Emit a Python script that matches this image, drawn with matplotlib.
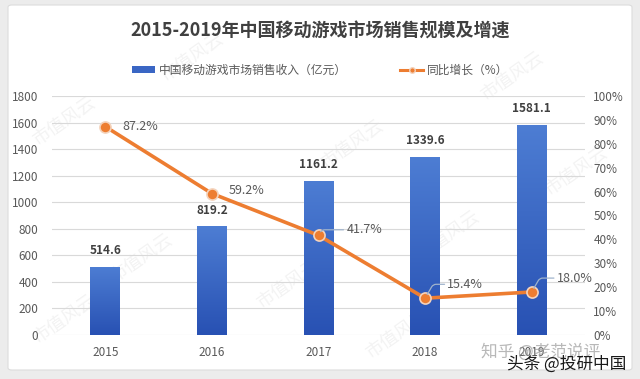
import numpy as np
import matplotlib.pyplot as plt
from matplotlib.patches import FancyBboxPatch, Patch
from matplotlib.lines import Line2D
from matplotlib.colors import LinearSegmentedColormap

plt.rcParams['font.family'] = ['Noto Sans CJK SC', 'DejaVu Sans']

years = ['2015', '2016', '2017', '2018', '2019']
revenue = [514.6, 819.2, 1161.2, 1339.6, 1581.1]
growth = [0.872, 0.592, 0.417, 0.154, 0.180]
growth_labels = ['87.2%', '59.2%', '41.7%', '15.4%', '18.0%']

bar_top = '#4d7dd3'
bar_bottom = '#2851b3'
orange = '#ed7d31'
gray_text = '#595959'

fig = plt.figure(figsize=(6.4, 3.79), dpi=100, facecolor='#ececec')
# white panel
fig.patches.append(FancyBboxPatch((8 / 640, 9 / 379), 624 / 640, 365 / 379,
                                  boxstyle='round,pad=0,rounding_size=0.006',
                                  transform=fig.transFigure, facecolor='white',
                                  edgecolor='#dcdcdc', linewidth=0.8, zorder=-10))

ax = fig.add_axes([52 / 640, 44 / 379, 533 / 640, 239 / 379])
ax.set_facecolor('none')
x = np.arange(len(years))

# bars drawn with a vertical gradient clipped to each bar
bars = ax.bar(x, revenue, width=0.28, color='none', edgecolor='none', zorder=2)
grad = np.linspace(0, 1, 100).reshape(-1, 1)
cmap = LinearSegmentedColormap.from_list('bar', [bar_bottom, bar_top])
for b in bars:
    x0, y0 = b.get_x(), b.get_y()
    im = ax.imshow(grad, extent=(x0, x0 + b.get_width(), y0, y0 + b.get_height()),
                   origin='lower', cmap=cmap, aspect='auto', zorder=2)
    im.set_clip_path(b)

for xi, v in zip(x, revenue):
    ax.annotate(f'{v:.1f}', (xi, v), xytext=(0, 7), textcoords='offset points',
                ha='center', va='bottom', fontsize=8.5, fontweight='bold',
                color='#404040', zorder=5)

ax.set_xlim(-0.5, 4.5)
ax.set_ylim(0, 1800)
ax.set_yticks(range(0, 1801, 200))
ax.set_xticks(x)
ax.set_xticklabels(years)
ax.grid(axis='y', color='#d9d9d9', linewidth=0.8, zorder=0)
ax.set_axisbelow(True)
for s in ax.spines.values():
    s.set_visible(False)
ax.tick_params(length=0, labelsize=8.5, labelcolor=gray_text)
ax.tick_params(axis='x', pad=8)
ax.tick_params(axis='y', pad=10)

ax2 = ax.twinx()
ax2.set_ylim(0, 1.0)
ax2.set_yticks(np.arange(0, 1.01, 0.1))
ax2.set_yticklabels([f'{int(round(t * 100))}%' for t in np.arange(0, 1.01, 0.1)])
for s in ax2.spines.values():
    s.set_visible(False)
ax2.tick_params(length=0, labelsize=8.5, labelcolor=gray_text, pad=6)

ax2.plot(x, growth, color=orange, linewidth=2.6, marker='o', markersize=8,
         markerfacecolor=orange, markeredgecolor='#f4d3bc', markeredgewidth=1.2,
         zorder=4)

offsets = [(12, 0), (12, 2), (20, 4), (16, 10), (18, 10)]
leaders = [False, False, True, True, True]
for xi, g, lab, off, ld in zip(x, growth, growth_labels, offsets, leaders):
    kw = {}
    if ld:
        kw['arrowprops'] = dict(arrowstyle='-', color='#9fb3cc', linewidth=0.9,
                                shrinkA=0, shrinkB=3,
                                connectionstyle='angle,angleA=0,angleB=60,rad=3')
    ax2.annotate(lab, (xi, g), xytext=off, textcoords='offset points',
                 ha='left', va='center', fontsize=9, color=gray_text, zorder=6, **kw)

fig.text(0.5, 0.918, '2015-2019年中国移动游戏市场销售规模及增速', ha='center',
         va='center', fontsize=13, fontweight='bold', color='#404040')

handles = [Patch(facecolor='#3a66c4', edgecolor='none'),
           Line2D([0], [0], color=orange, linewidth=2.2, marker='o', markersize=4,
                  markerfacecolor=orange, markeredgecolor='#f4d3bc')]
fig.legend(handles, ['中国移动游戏市场销售收入（亿元）', '同比增长（%）'],
           loc='center', bbox_to_anchor=(0.5, 0.815), ncol=2, frameon=False,
           fontsize=8.5, labelcolor=gray_text, handlelength=2.0, handleheight=0.6,
           columnspacing=4.5, handletextpad=0.3)

# faint watermarks
for wx, wy in [(0.1, 0.68), (0.3, 0.85), (0.55, 0.62), (0.8, 0.8), (0.22, 0.32),
               (0.45, 0.25), (0.7, 0.38), (0.9, 0.55), (0.1, 0.16), (0.62, 0.12)]:
    fig.text(wx, wy, '市值风云', rotation=35, fontsize=13, color='#d0d0d0',
             alpha=0.25, ha='center', va='center', zorder=-5)

fig.text(0.845, 0.072, '知乎 @老范说评', fontsize=12, color='#a0a0a0', alpha=0.75,
         ha='center', va='center')
fig.text(0.885, 0.04, '头条 @投研中国', fontsize=12, color='#1a1a1a',
         ha='center', va='center')

fig.savefig('out.png', dpi=100, facecolor=fig.get_facecolor())
